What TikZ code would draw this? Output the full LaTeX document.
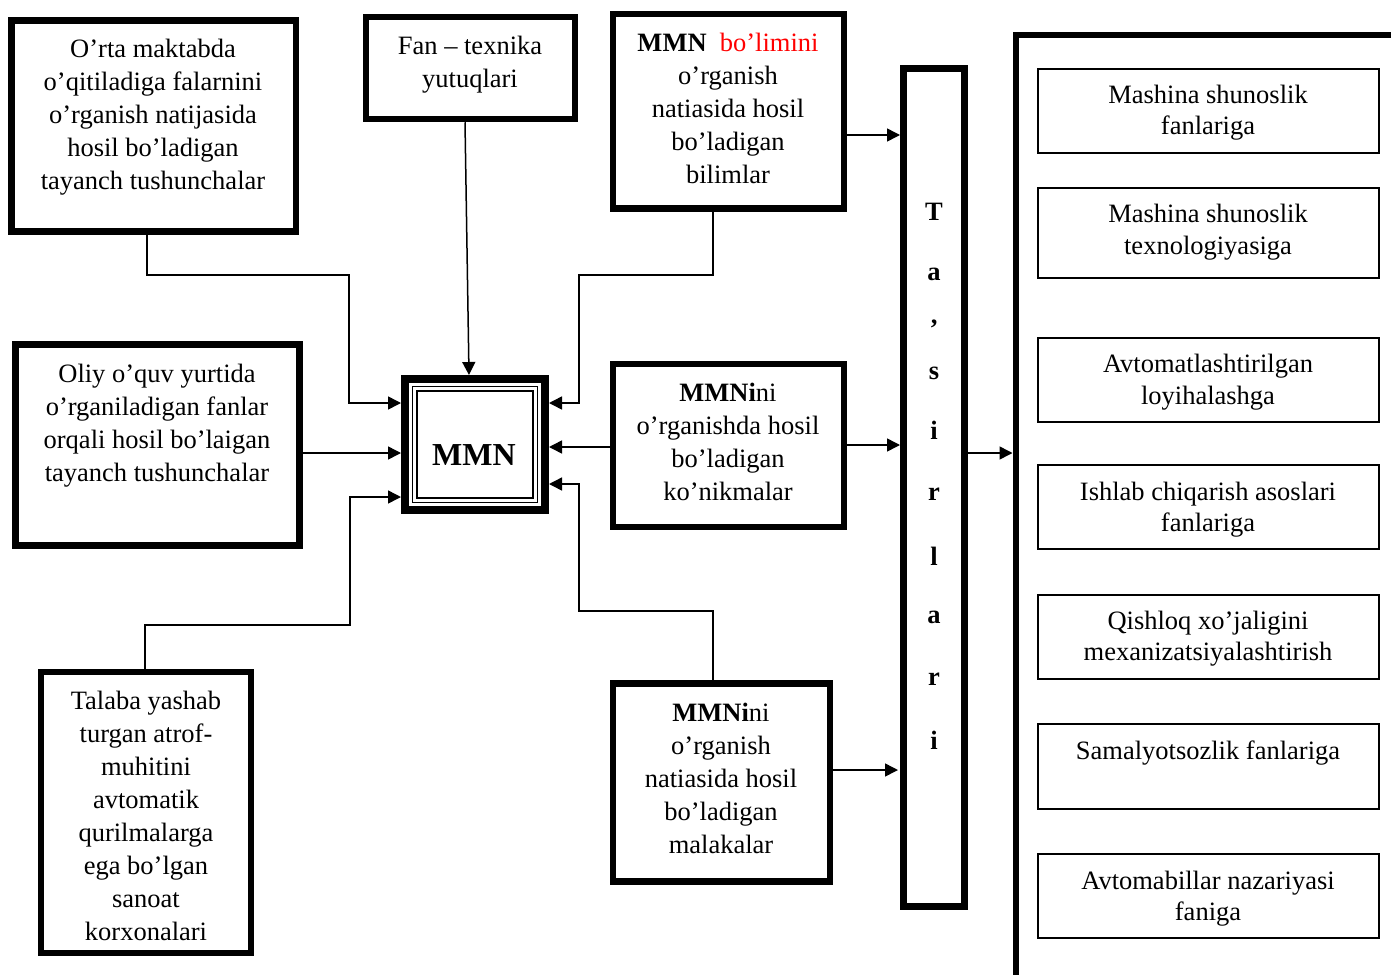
\documentclass[tikz,border=0pt]{standalone}
\usepackage{fontspec}
\setmainfont{Liberation Serif}
\usetikzlibrary{arrows.meta}
\begin{document}
\begin{tikzpicture}[x=1pt,y=-1pt,
 bbox/.style={draw, line width=6.5pt, outer sep=3.25pt, inner sep=0pt},
 sbox/.style={draw, line width=1.8pt, outer sep=0.9pt, inner sep=0pt, minimum width=341pt, minimum height=84pt},
 txt/.style={font=\fontsize{26.5}{33}\selectfont, align=center, inner sep=0pt},
 rtxt/.style={font=\fontsize{26.5}{31.5}\selectfont, align=center, inner sep=0pt},
 vtxt/.style={font=\fontsize{26.5}{31}\selectfont\bfseries, anchor=base, inner sep=0pt},
 conn/.style={line width=1.5pt},
 arr/.style={conn, -{Triangle[length=13pt,width=13pt]}}]
\useasboundingbox (0,0) rectangle (1391,974);

% left boxes
\node[bbox, minimum width=284.5pt, minimum height=211pt] (A) at (153.75,126) {};
\node[txt] (At) at (153,117) {O’rta maktabda\\o’qitiladiga falarnini\\o’rganish natijasida\\hosil bo’ladigan\\tayanch tushunchalar};

\node[bbox, minimum width=209pt, minimum height=102pt] (Fan) at (470.5,68) {};
\node[txt] (Fant) at (470,64.5) {Fan – texnika\\yutuqlari};

\node[bbox, minimum width=231pt, minimum height=194.5pt] (B) at (728.5,111.25) {};
\node[txt] (Bt) at (728,108.5) {\textbf{MMN}\ \ \textcolor{red}{bo’limini}\\o’rganish\\natiasida hosil\\bo’ladigan\\bilimlar};

\node[bbox, minimum width=284pt, minimum height=201pt] (C) at (157.5,445) {};
\node[txt] (Ct) at (157,425.5) {Oliy o’quv yurtida\\o’rganiladigan fanlar\\orqali hosil bo’laigan\\tayanch tushunchalar};

\node[bbox, minimum width=210pt, minimum height=281pt] (D) at (146,812.5) {};
\node[txt] (Dt) at (146,816) {Talaba yashab\\turgan atrof-\\muhitini\\avtomatik\\qurilmalarga\\ega bo’lgan\\sanoat\\korxonalari};

\node[bbox, minimum width=231pt, minimum height=163pt] (E) at (728.5,445.5) {};
\node[txt] (Et) at (728,441.5) {\textbf{MMNi}ni\\o’rganishda hosil\\bo’ladigan\\ko’nikmalar};

\node[bbox, minimum width=217pt, minimum height=198pt] (F) at (721.5,782.5) {};
\node[txt] (Ft) at (721,778) {\textbf{MMNi}ni\\o’rganish\\natiasida hosil\\bo’ladigan\\malakalar};

% central MMN
\node[draw, line width=8pt, outer sep=4pt, inner sep=0pt, minimum width=140pt, minimum height=131pt] (M) at (475,444.5) {};
\draw[line width=1.8pt] ([xshift=11.5pt,yshift=-11.5pt]M.north west) rectangle ([xshift=-11.5pt,yshift=11.5pt]M.south east);
\draw[line width=1.6pt] ([xshift=15.8pt,yshift=-15.8pt]M.north west) rectangle ([xshift=-15.8pt,yshift=15.8pt]M.south east);
\node[font=\fontsize{32}{36}\selectfont\bfseries, inner sep=0pt] (Mt) at (474,455) {MMN};

% Ta'sirlari column
\node[bbox, line width=7pt, outer sep=3.5pt, minimum width=61pt, minimum height=838pt] (T) at (934,487.5) {};
\node[vtxt] (t1) at (934,220) {T};
\node[vtxt] (t2) at (934,280) {a};
\node[font=\fontsize{26.5}{31}\selectfont\bfseries, inner sep=0pt] (t3) at (934,329) {’};
\node[vtxt] (t4) at (934,379) {s};
\node[vtxt] (t5) at (934,439) {i};
\node[vtxt] (t6) at (934,500) {r};
\node[vtxt] (t7) at (934,565) {l};
\node[vtxt] (t8) at (934,623) {a};
\node[vtxt] (t9) at (934,685) {r};
\node[vtxt] (t10) at (934,749) {i};

% right big frame
\node[draw, line width=6pt, outer sep=3pt, inner sep=0pt, minimum width=600pt, minimum height=1200pt, anchor=north west] (R) at (1012.5,32) {};

\node[sbox, minimum height=84.3pt] (r1) at (1208.5,110.8) {};
\node[rtxt] (r1t) at (1208,112.5) {Mashina shunoslik\\fanlariga};
\node[sbox, minimum height=90pt] (r2) at (1208.5,233) {};
\node[rtxt] (r2t) at (1208,232) {Mashina shunoslik\\texnologiyasiga};
\node[sbox] (r3) at (1208.5,380) {};
\node[rtxt] (r3t) at (1208,382) {Avtomatlashtirilgan\\loyihalashga};
\node[sbox] (r4) at (1208.5,507) {};
\node[rtxt] (r4t) at (1208,509.5) {Ishlab chiqarish asoslari\\fanlariga};
\node[sbox] (r5) at (1208.5,637) {};
\node[rtxt] (r5t) at (1208,638.5) {Qishloq xo’jaligini\\mexanizatsiyalashtirish};
\node[sbox, minimum height=85pt] (r6) at (1208.5,766.5) {};
\node[rtxt] (r6t) at (1208,753) {Samalyotsozlik fanlariga};
\node[sbox] (r7) at (1208.5,896) {};
\node[rtxt] (r7t) at (1208,898.5) {Avtomabillar nazariyasi\\faniga};

% connectors
\coordinate (a1) at (147,275); \coordinate (a2) at (349,275); \coordinate (a3) at (349,403);
\draw[arr] (a1 |- A.south) -- (a1) -- (a2) -- (a3) -- (a3 -| M.west);
\coordinate (f1) at (465,0); \coordinate (f2) at (469,0);
\draw[arr] (f1 |- Fan.south) -- (f2 |- M.north);
\coordinate (c0) at (0,453);
\draw[arr] (c0 -| C.east) -- (c0 -| M.west);
\coordinate (d1) at (145,625); \coordinate (d2) at (350,625); \coordinate (d3) at (350,497);
\draw[arr] (d1 |- D.north) -- (d1) -- (d2) -- (d3) -- (d3 -| M.west);
\coordinate (b1) at (713,275); \coordinate (b2) at (579,275); \coordinate (b3) at (579,403);
\draw[arr] (b1 |- B.south) -- (b1) -- (b2) -- (b3) -- (b3 -| M.east);
\coordinate (e0) at (0,447);
\draw[arr] (e0 -| E.west) -- (e0 -| M.east);
\coordinate (g1) at (713,611); \coordinate (g2) at (579,611); \coordinate (g3) at (579,484);
\draw[arr] (g1 |- F.north) -- (g1) -- (g2) -- (g3) -- (g3 -| M.east);
\coordinate (bt) at (0,135);
\draw[arr] (bt -| B.east) -- (bt -| T.west);
\coordinate (et) at (0,445);
\draw[arr] (et -| E.east) -- (et -| T.west);
\coordinate (ft) at (0,770);
\draw[arr] (ft -| F.east) -- ([xshift=-2pt]ft -| T.west);
\coordinate (tr) at (0,453);
\draw[arr] (tr -| T.east) -- (tr -| R.west);
\end{tikzpicture}
\end{document}
